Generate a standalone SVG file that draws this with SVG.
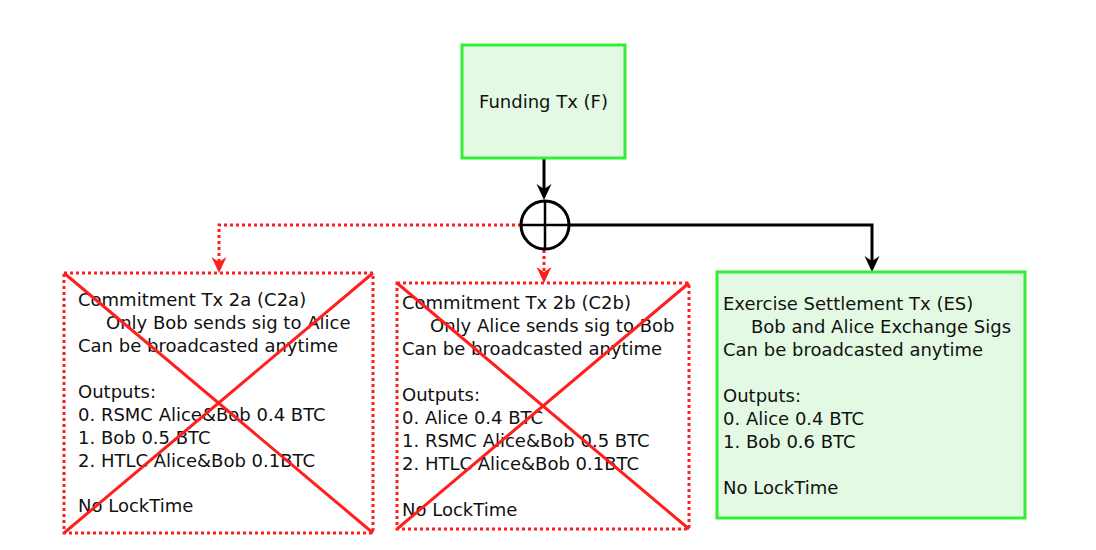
<svg xmlns="http://www.w3.org/2000/svg" width="1096" height="550" viewBox="0 0 1096 550">
<style>
.txt{font-family:"DejaVu Sans",sans-serif;font-size:18px;fill:#111}
.green{fill:#e3f9e3;stroke:#33ee33;stroke-width:3}
.dot{fill:#fff;stroke:#ff1f1f;stroke-width:3;stroke-dasharray:3,3}
.cross{stroke:#ff1f1f;stroke-width:3}
.blk{fill:none;stroke:#000;stroke-width:3}
.red{fill:none;stroke:#ff1f1f;stroke-width:3;stroke-dasharray:3,3}
</style>
<defs>
<marker id="ab" viewBox="-17 -8 18 16" markerWidth="18" markerHeight="16" refX="-8" refY="0" orient="auto" markerUnits="userSpaceOnUse">
<path d="M0,0 L-16,-7.5 L-11,0 L-16,7.5 Z" fill="#000"/>
</marker>
<marker id="ar" viewBox="-17 -8 18 16" markerWidth="18" markerHeight="16" refX="-8" refY="0" orient="auto" markerUnits="userSpaceOnUse">
<path d="M0,0 L-16,-7.5 L-11,0 L-16,7.5 Z" fill="#ff1f1f"/>
</marker>
</defs>
<rect width="1096" height="550" fill="#fff"/>

<g id="connectors">
<path class="blk" d="M544,158 V192" marker-end="url(#ab)"/>
<path class="blk" d="M569,225 H872 V264" marker-end="url(#ab)"/>
<path class="red" d="M521,225 H219 V265" marker-end="url(#ar)"/>
<path class="red" d="M544,250 V275" marker-end="url(#ar)"/>
</g>

<g id="funding">
<rect class="green" x="462" y="45" width="163" height="113"/>
<text class="txt" x="543.5" y="108" text-anchor="middle">Funding Tx (F)</text>
</g>

<g id="junction">
<circle cx="545" cy="225" r="24" fill="#fff" stroke="#000" stroke-width="3"/>
<path d="M521,225 H569 M545,201 V249" stroke="#000" stroke-width="2.5"/>
</g>

<g id="c2a">
<rect class="dot" x="64" y="273" width="309" height="260"/>
<g class="txt">
<text x="78" y="306">Commitment Tx 2a (C2a)</text>
<text x="106" y="329">Only Bob sends sig to Alice</text>
<text x="78" y="352">Can be broadcasted anytime</text>
<text x="78" y="398">Outputs:</text>
<text x="78" y="421">0. RSMC Alice&amp;Bob 0.4 BTC</text>
<text x="78" y="444">1. Bob 0.5 BTC</text>
<text x="78" y="467">2. HTLC Alice&amp;Bob 0.1BTC</text>
<text x="78" y="512">No LockTime</text>
</g>
<path class="cross" d="M64,273 L373,533 M373,273 L64,533"/>
</g>

<g id="c2b">
<rect class="dot" x="397" y="283" width="292" height="246"/>
<g class="txt">
<text x="402" y="309">Commitment Tx 2b (C2b)</text>
<text x="430" y="332">Only Alice sends sig to Bob</text>
<text x="402" y="355">Can be broadcasted anytime</text>
<text x="402" y="401">Outputs:</text>
<text x="402" y="424">0. Alice 0.4 BTC</text>
<text x="402" y="447">1. RSMC Alice&amp;Bob 0.5 BTC</text>
<text x="402" y="470">2. HTLC Alice&amp;Bob 0.1BTC</text>
<text x="402" y="516">No LockTime</text>
</g>
<path class="cross" d="M397,283 L689,529 M689,283 L397,529"/>
</g>

<g id="es">
<rect class="green" x="717" y="272" width="308" height="246"/>
<g class="txt">
<text x="723" y="310">Exercise Settlement Tx (ES)</text>
<text x="751" y="333">Bob and Alice Exchange Sigs</text>
<text x="723" y="356">Can be broadcasted anytime</text>
<text x="723" y="402">Outputs:</text>
<text x="723" y="425">0. Alice 0.4 BTC</text>
<text x="723" y="448">1. Bob 0.6 BTC</text>
<text x="723" y="494">No LockTime</text>
</g>
</g>
</svg>
